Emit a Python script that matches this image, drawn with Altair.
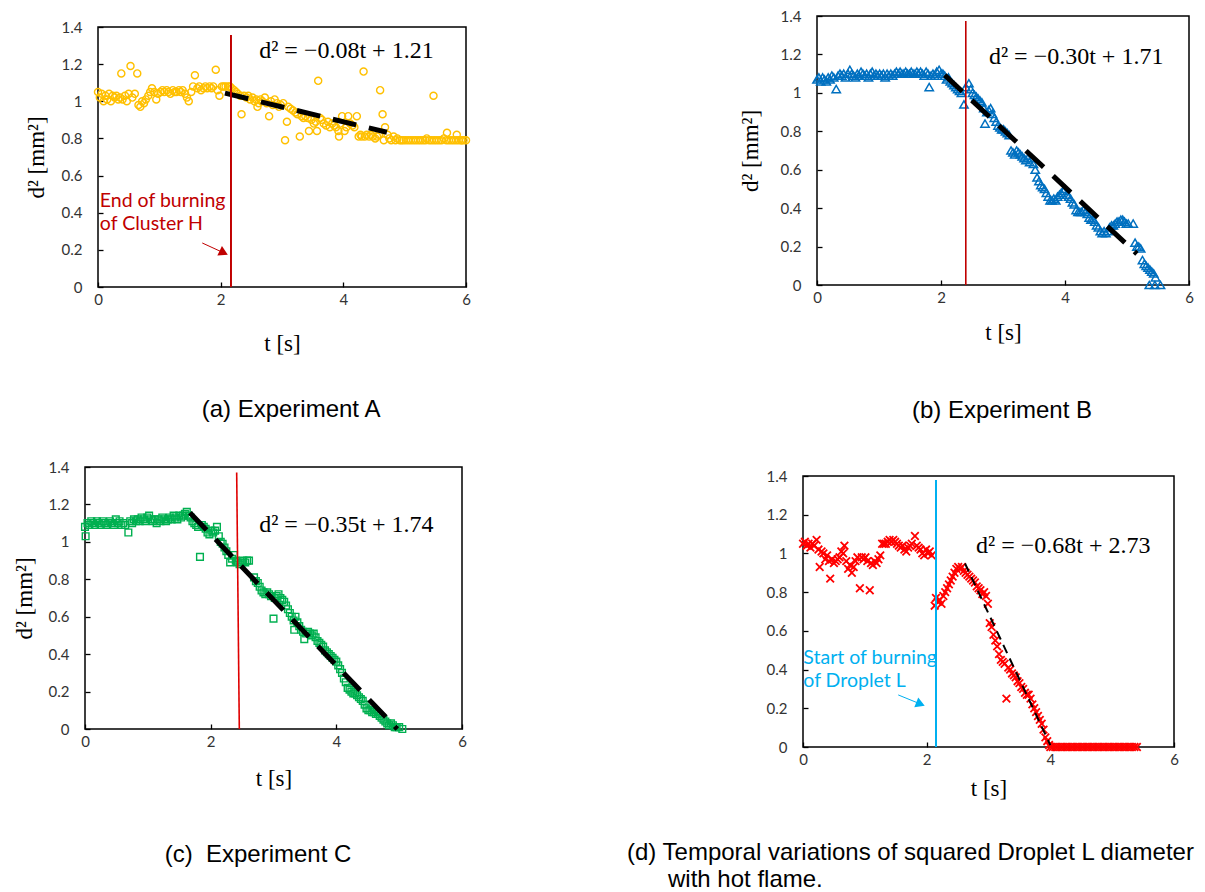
import altair as alt
import pandas as pd

# ---------------- data ----------------
X_TICKS = [0, 2, 4, 6]
Y_TICKS = [0, 0.2, 0.4, 0.6, 0.8, 1.0, 1.2, 1.4]

# (a) Experiment A  (t [s], d^2 [mm^2])
A_POINTS = [
    (0.00, 1.05), (0.03, 1.02), (0.06, 1.04), (0.09, 1.00), (0.12, 1.03), (0.15, 1.01),
    (0.18, 1.04), (0.21, 1.00), (0.24, 1.03), (0.27, 1.02), (0.30, 1.03), (0.33, 1.01),
    (0.36, 1.02), (0.38, 1.15), (0.40, 1.01), (0.44, 1.03), (0.47, 1.00), (0.50, 1.04),
    (0.53, 1.19), (0.56, 1.02), (0.60, 1.04), (0.64, 1.15), (0.66, 0.98), (0.69, 0.97),
    (0.72, 1.00), (0.75, 0.99), (0.78, 1.01), (0.82, 1.03), (0.85, 1.05), (0.88, 1.07),
    (0.92, 1.05), (0.95, 1.01), (0.98, 1.04), (1.02, 1.05), (1.05, 1.06), (1.08, 1.05),
    (1.12, 1.06), (1.15, 1.05), (1.18, 1.04), (1.22, 1.06), (1.25, 1.05), (1.28, 1.05),
    (1.32, 1.06), (1.35, 1.05), (1.38, 1.06), (1.42, 1.04), (1.45, 1.02), (1.48, 1.00),
    (1.52, 1.05), (1.55, 1.08), (1.58, 1.14), (1.62, 1.07), (1.65, 1.08), (1.68, 1.06),
    (1.72, 1.07), (1.75, 1.08), (1.78, 1.07), (1.82, 1.08), (1.85, 1.07), (1.88, 1.08),
    (1.92, 1.17), (1.95, 1.06), (1.98, 1.03), (2.02, 1.08), (2.05, 1.08), (2.08, 1.08),
    (2.12, 1.08), (2.15, 1.08), (2.18, 1.07), (2.22, 1.06), (2.25, 1.05), (2.28, 1.04),
    (2.32, 1.03), (2.34, 0.93), (2.38, 1.03), (2.42, 1.02), (2.45, 1.03), (2.48, 1.01),
    (2.52, 1.02), (2.55, 1.00), (2.58, 1.01), (2.60, 0.97), (2.62, 0.99), (2.65, 1.01),
    (2.68, 1.00), (2.72, 1.02), (2.75, 0.99), (2.79, 0.92), (2.82, 1.00), (2.85, 0.98),
    (2.88, 1.01), (2.92, 0.99), (2.95, 0.97), (2.98, 0.98), (3.02, 0.99), (3.05, 0.79),
    (3.08, 0.89), (3.10, 0.97), (3.14, 0.96), (3.18, 0.95), (3.22, 0.94), (3.25, 0.93),
    (3.29, 0.81), (3.32, 0.92), (3.35, 0.91), (3.38, 0.92), (3.42, 0.91), (3.44, 0.84),
    (3.48, 0.90), (3.52, 0.88), (3.55, 0.89), (3.57, 0.84), (3.59, 1.11), (3.62, 0.91),
    (3.65, 0.90), (3.68, 0.88), (3.72, 0.87), (3.75, 0.89), (3.78, 0.86), (3.82, 0.88),
    (3.85, 0.87), (3.88, 0.86), (3.92, 0.84), (3.93, 0.81), (3.95, 0.88), (3.98, 0.92),
    (4.02, 0.84), (4.05, 0.86), (4.08, 0.92), (4.11, 0.88), (4.15, 0.87), (4.18, 0.86),
    (4.22, 0.92), (4.25, 0.81), (4.28, 0.82), (4.30, 0.81), (4.33, 1.16), (4.35, 0.81),
    (4.38, 0.82), (4.42, 0.81), (4.45, 0.82), (4.48, 0.81), (4.52, 0.80), (4.55, 0.81),
    (4.58, 0.82), (4.60, 1.06), (4.64, 0.93), (4.66, 0.79), (4.68, 0.86), (4.72, 0.82),
    (4.75, 0.80), (4.78, 0.79), (4.82, 0.81), (4.85, 0.79), (4.88, 0.80), (4.92, 0.79),
    (4.95, 0.79), (4.98, 0.79), (5.02, 0.79), (5.06, 0.79), (5.10, 0.79), (5.14, 0.79),
    (5.18, 0.79), (5.22, 0.79), (5.26, 0.79), (5.30, 0.79), (5.34, 0.79), (5.36, 0.80),
    (5.40, 0.79), (5.44, 0.79), (5.47, 1.03), (5.48, 0.79), (5.52, 0.79), (5.56, 0.79),
    (5.60, 0.79), (5.64, 0.80), (5.68, 0.79), (5.69, 0.83), (5.72, 0.79), (5.76, 0.79),
    (5.80, 0.79), (5.84, 0.79), (5.85, 0.82), (5.88, 0.79), (5.92, 0.79), (5.93, 0.79),
    (5.96, 0.79), (6.00, 0.79),
]

# (b) Experiment B
B_POINTS = [
    (0.00, 1.07), (0.03, 1.08), (0.06, 1.06), (0.09, 1.08), (0.12, 1.07), (0.15, 1.06),
    (0.18, 1.08), (0.21, 1.07), (0.24, 1.09), (0.27, 1.08), (0.31, 1.02), (0.34, 1.09),
    (0.37, 1.10), (0.40, 1.09), (0.43, 1.10), (0.46, 1.08), (0.50, 1.10), (0.53, 1.12),
    (0.56, 1.10), (0.59, 1.09), (0.62, 1.08), (0.65, 1.10), (0.68, 1.09), (0.71, 1.11),
    (0.74, 1.10), (0.77, 1.09), (0.80, 1.10), (0.83, 1.08), (0.86, 1.10), (0.89, 1.11),
    (0.92, 1.09), (0.95, 1.10), (0.98, 1.09), (1.01, 1.10), (1.04, 1.09), (1.07, 1.10),
    (1.10, 1.08), (1.13, 1.10), (1.16, 1.09), (1.19, 1.10), (1.22, 1.09), (1.25, 1.10),
    (1.28, 1.11), (1.31, 1.10), (1.34, 1.11), (1.37, 1.10), (1.40, 1.10), (1.43, 1.11),
    (1.46, 1.10), (1.49, 1.10), (1.52, 1.11), (1.55, 1.10), (1.58, 1.10), (1.61, 1.11),
    (1.64, 1.10), (1.67, 1.11), (1.70, 1.10), (1.73, 1.09), (1.76, 1.11), (1.79, 1.10),
    (1.81, 1.03), (1.84, 1.09), (1.87, 1.10), (1.90, 1.09), (1.93, 1.11), (1.97, 1.12),
    (2.00, 1.10), (2.03, 1.10), (2.06, 1.09), (2.09, 1.07), (2.12, 1.08), (2.15, 1.06),
    (2.18, 1.05), (2.21, 1.04), (2.24, 1.03), (2.27, 1.02), (2.30, 1.01), (2.33, 1.00),
    (2.37, 0.94), (2.40, 1.03), (2.45, 1.05), (2.48, 1.02), (2.51, 1.00), (2.54, 0.99),
    (2.57, 0.98), (2.60, 0.97), (2.63, 0.96), (2.66, 0.95), (2.69, 0.92), (2.71, 0.84),
    (2.74, 0.90), (2.77, 0.91), (2.80, 0.92), (2.83, 0.89), (2.86, 0.87), (2.89, 0.85),
    (2.92, 0.83), (2.95, 0.82), (2.98, 0.81), (3.01, 0.81), (3.04, 0.80), (3.07, 0.79),
    (3.10, 0.78), (3.13, 0.70), (3.16, 0.69), (3.19, 0.68), (3.22, 0.70), (3.25, 0.69),
    (3.28, 0.68), (3.31, 0.67), (3.34, 0.66), (3.37, 0.65), (3.40, 0.66), (3.43, 0.64),
    (3.46, 0.66), (3.49, 0.63), (3.52, 0.60), (3.55, 0.56), (3.58, 0.54), (3.61, 0.52),
    (3.64, 0.51), (3.67, 0.50), (3.70, 0.48), (3.73, 0.46), (3.76, 0.44), (3.79, 0.44),
    (3.82, 0.45), (3.85, 0.44), (3.88, 0.46), (3.91, 0.47), (3.94, 0.48), (3.97, 0.49),
    (4.00, 0.50), (4.03, 0.47), (4.06, 0.46), (4.09, 0.45), (4.12, 0.43), (4.15, 0.42),
    (4.18, 0.39), (4.21, 0.38), (4.24, 0.38), (4.27, 0.38), (4.30, 0.39), (4.33, 0.38),
    (4.36, 0.37), (4.39, 0.35), (4.42, 0.34), (4.45, 0.34), (4.48, 0.33), (4.51, 0.31),
    (4.54, 0.30), (4.57, 0.28), (4.60, 0.27), (4.63, 0.28), (4.66, 0.27), (4.69, 0.28),
    (4.72, 0.30), (4.75, 0.31), (4.78, 0.31), (4.81, 0.32), (4.84, 0.33), (4.87, 0.33),
    (4.90, 0.34), (4.93, 0.34), (4.96, 0.33), (4.99, 0.32), (5.02, 0.32), (5.10, 0.32),
    (5.13, 0.22), (5.16, 0.20), (5.19, 0.20), (5.22, 0.19), (5.25, 0.13), (5.28, 0.11),
    (5.31, 0.10), (5.34, 0.09), (5.37, 0.08), (5.40, 0.07), (5.43, 0.06), (5.46, 0.04),
    (5.36, 0.00), (5.45, 0.00), (5.54, 0.00),
]

# (c) Experiment C
C_POINTS = [
    (0.00, 1.08), (0.01, 1.03), (0.04, 1.10), (0.07, 1.09), (0.10, 1.11), (0.13, 1.10),
    (0.16, 1.09), (0.19, 1.11), (0.22, 1.10), (0.25, 1.09), (0.28, 1.11), (0.31, 1.10),
    (0.34, 1.09), (0.37, 1.10), (0.40, 1.11), (0.43, 1.10), (0.46, 1.09), (0.49, 1.12),
    (0.52, 1.10), (0.55, 1.11), (0.58, 1.09), (0.61, 1.10), (0.64, 1.09), (0.69, 1.05),
    (0.72, 1.11), (0.75, 1.10), (0.78, 1.12), (0.81, 1.11), (0.84, 1.12), (0.87, 1.11),
    (0.90, 1.13), (0.93, 1.12), (0.96, 1.11), (0.99, 1.13), (1.02, 1.14), (1.05, 1.12),
    (1.08, 1.11), (1.11, 1.12), (1.14, 1.10), (1.17, 1.12), (1.20, 1.11), (1.23, 1.13),
    (1.26, 1.12), (1.29, 1.11), (1.32, 1.12), (1.35, 1.13), (1.38, 1.12), (1.41, 1.14),
    (1.44, 1.13), (1.47, 1.12), (1.50, 1.14), (1.53, 1.13), (1.56, 1.14), (1.59, 1.15),
    (1.62, 1.16), (1.65, 1.14), (1.68, 1.13), (1.71, 1.11), (1.74, 1.10), (1.77, 1.09),
    (1.80, 1.08), (1.83, 0.92), (1.86, 1.09), (1.89, 1.08), (1.92, 1.07), (1.95, 1.05),
    (1.98, 1.04), (2.01, 1.06), (2.04, 1.05), (2.07, 1.06), (2.10, 1.08), (2.13, 1.03),
    (2.16, 1.00), (2.19, 0.99), (2.22, 0.97), (2.25, 0.95), (2.28, 0.93), (2.31, 0.89),
    (2.34, 0.91), (2.37, 0.93), (2.40, 0.90), (2.43, 0.89), (2.46, 0.88), (2.49, 0.89),
    (2.52, 0.90), (2.55, 0.89), (2.58, 0.90), (2.61, 0.90), (2.69, 0.81), (2.72, 0.79),
    (2.75, 0.78), (2.78, 0.76), (2.81, 0.74), (2.84, 0.73), (2.87, 0.72), (2.90, 0.73),
    (2.93, 0.72), (2.96, 0.71), (3.00, 0.59), (3.02, 0.70), (3.05, 0.71), (3.08, 0.72),
    (3.11, 0.70), (3.14, 0.69), (3.17, 0.68), (3.20, 0.66), (3.23, 0.64), (3.26, 0.62),
    (3.29, 0.60), (3.32, 0.58), (3.33, 0.53), (3.35, 0.60), (3.38, 0.57), (3.41, 0.55),
    (3.44, 0.53), (3.47, 0.52), (3.49, 0.48), (3.52, 0.51), (3.55, 0.52), (3.58, 0.51),
    (3.61, 0.50), (3.64, 0.51), (3.67, 0.49), (3.70, 0.47), (3.73, 0.46), (3.76, 0.45),
    (3.79, 0.44), (3.82, 0.42), (3.85, 0.41), (3.88, 0.40), (3.91, 0.39), (3.94, 0.38),
    (3.97, 0.37), (4.00, 0.36), (4.03, 0.34), (4.06, 0.32), (4.09, 0.30), (4.12, 0.27),
    (4.15, 0.25), (4.18, 0.22), (4.21, 0.21), (4.24, 0.20), (4.27, 0.19), (4.30, 0.19),
    (4.33, 0.18), (4.36, 0.17), (4.39, 0.16), (4.42, 0.15), (4.45, 0.13), (4.48, 0.11),
    (4.51, 0.10), (4.54, 0.10), (4.57, 0.09), (4.60, 0.09), (4.63, 0.08), (4.66, 0.08),
    (4.69, 0.07), (4.72, 0.06), (4.75, 0.05), (4.78, 0.04), (4.81, 0.03), (4.84, 0.02),
    (4.87, 0.03), (4.90, 0.02), (4.93, 0.01), (4.96, 0.01), (5.00, 0.01), (5.05, 0.00),
]

# (d) Droplet L with hot flame
D_POINTS = [
    (0.00, 1.05), (0.03, 1.06), (0.06, 1.04), (0.09, 1.05), (0.12, 1.03), (0.15, 1.05),
    (0.18, 1.04), (0.22, 1.07), (0.25, 1.02), (0.27, 0.93), (0.30, 1.01), (0.33, 1.00),
    (0.36, 0.97), (0.39, 0.99), (0.42, 0.96), (0.44, 0.87), (0.47, 0.97), (0.50, 0.95),
    (0.53, 0.96), (0.56, 0.97), (0.59, 0.98), (0.62, 1.01), (0.65, 1.00), (0.67, 1.04),
    (0.70, 0.96), (0.73, 0.92), (0.76, 0.94), (0.79, 0.90), (0.82, 0.93), (0.85, 0.96),
    (0.88, 0.98), (0.92, 0.82), (0.95, 0.98), (0.98, 0.97), (1.01, 0.98), (1.04, 0.96),
    (1.08, 0.81), (1.10, 0.95), (1.13, 0.94), (1.16, 0.96), (1.19, 0.95), (1.22, 0.97),
    (1.25, 0.99), (1.28, 1.05), (1.31, 1.05), (1.34, 1.05), (1.37, 1.06), (1.40, 1.07),
    (1.43, 1.06), (1.46, 1.07), (1.49, 1.06), (1.52, 1.05), (1.55, 1.04), (1.58, 1.03),
    (1.61, 1.04), (1.64, 1.02), (1.67, 1.01), (1.70, 1.03), (1.73, 1.04), (1.76, 1.05),
    (1.81, 1.09), (1.84, 1.04), (1.87, 1.03), (1.90, 1.02), (1.93, 1.00), (1.96, 0.99),
    (1.99, 1.02), (2.02, 1.00), (2.05, 1.01), (2.08, 0.99), (2.13, 0.73), (2.15, 0.77),
    (2.18, 0.75), (2.21, 0.76), (2.24, 0.74), (2.27, 0.78), (2.30, 0.80), (2.33, 0.82),
    (2.36, 0.84), (2.39, 0.86), (2.42, 0.88), (2.45, 0.90), (2.48, 0.92), (2.51, 0.93),
    (2.54, 0.92), (2.57, 0.93), (2.60, 0.91), (2.63, 0.90), (2.66, 0.89), (2.69, 0.88),
    (2.72, 0.87), (2.75, 0.86), (2.78, 0.85), (2.81, 0.83), (2.84, 0.82), (2.87, 0.81),
    (2.90, 0.79), (2.93, 0.80), (2.96, 0.78), (2.99, 0.74), (3.02, 0.64), (3.05, 0.62),
    (3.08, 0.58), (3.11, 0.55), (3.14, 0.52), (3.17, 0.48), (3.20, 0.45), (3.23, 0.44),
    (3.26, 0.43), (3.29, 0.25), (3.32, 0.41), (3.35, 0.40), (3.38, 0.38), (3.41, 0.37),
    (3.44, 0.36), (3.47, 0.34), (3.50, 0.33), (3.53, 0.31), (3.56, 0.30), (3.59, 0.28),
    (3.62, 0.27), (3.65, 0.27), (3.68, 0.25), (3.71, 0.22), (3.74, 0.20), (3.77, 0.18),
    (3.80, 0.16), (3.83, 0.14), (3.86, 0.12), (3.89, 0.09), (3.92, 0.05), (3.95, 0.03),
    (3.98, 0.01), (4.00, 0.00), (4.04, 0.00), (4.08, 0.00), (4.12, 0.00), (4.16, 0.00),
    (4.20, 0.00), (4.24, 0.00), (4.28, 0.00), (4.32, 0.00), (4.36, 0.00), (4.40, 0.00),
    (4.44, 0.00), (4.48, 0.00), (4.52, 0.00), (4.56, 0.00), (4.60, 0.00), (4.64, 0.00),
    (4.68, 0.00), (4.72, 0.00), (4.76, 0.00), (4.80, 0.00), (4.84, 0.00), (4.88, 0.00),
    (4.92, 0.00), (4.96, 0.00), (5.00, 0.00), (5.04, 0.00), (5.08, 0.00), (5.12, 0.00),
    (5.16, 0.00), (5.20, 0.00), (5.24, 0.00), (5.28, 0.00), (5.32, 0.00), (5.36, 0.00),
    (5.40, 0.00),
]

# fitted lines (end points on the regression lines)
FIT_A = [(2.07, 1.044), (4.71, 0.833)]
FIT_B = [(2.06, 1.092), (5.16, 0.162)]
FIT_C = [(1.67, 1.156), (4.97, 0.000)]
FIT_D = [(2.62, 0.948), (4.00, 0.010)]

EQUATIONS = {"A": "d² = −0.08t + 1.21", "B": "d² = −0.30t + 1.71",
             "C": "d² = −0.35t + 1.74", "D": "d² = −0.68t + 2.73"}
EQ_POS = {"A": (4.05, 1.27), "B": (4.18, 1.187), "C": (4.16, 1.09), "D": (4.21, 1.038)}

# marker lines: (t at top, top value, t at bottom)
RULE_A = (2.168, 1.357, 2.168)
RULE_B = (2.40, 1.374, 2.40)
RULE_C = (2.414, 1.37, 2.456)
RULE_D = (2.151, 1.379, 2.151)

NOTE_A = ["End of burning", "of Cluster H"]
NOTE_A_POS = (0.03, [0.431, 0.307])
ARROW_A = [(1.70, 0.237), (2.05, 0.184)]
NOTE_D = ["Start of burning", "of Droplet L"]
NOTE_D_POS = (0.005, [0.429, 0.310])
ARROW_D = [(1.54, 0.269), (1.90, 0.222)]

# captions below each panel, placed in that panel's own data units
CAPTIONS = {
    "A": [("(a) Experiment A", 3.147, -0.700, "center")],
    "B": [("(b) Experiment B", 2.984, -0.692, "center")],
    "C": [("(c)\u00a0 Experiment C", 2.753, -0.711, "center")],
    "D": [("(d) Temporal variations of squared Droplet L diameter", -2.846, -0.584, "left"),
          ("with hot flame.", -2.183, -0.722, "left")],
}

COLORS = {"A": "#FFC000", "B": "#0070C0", "C": "#00B050", "D": "#FF0000"}

Y_TITLE = "d² [mm²]"
X_TITLE = "t [s]"

# ---------------- layout (pixels inside the drawing) ----------------
W, H = 1189, 884
LAYOUT = {
    #      x range      y range (bottom, top)
    "A": dict(xr=[90, 458], yr=[279, 19], ypad=13, xpad=25, ytitle=True),
    "B": dict(xr=[809, 1181], yr=[277, 8], ypad=17.5, xpad=16, ytitle=True),
    "C": dict(xr=[77, 454], yr=[721, 459], ypad=11.5, xpad=18.5, ytitle=True),
    "D": dict(xr=[795, 1166], yr=[739, 468], ypad=0, xpad=10, ytitle=False),
}
TICK = 5

COMMON_AXIS = dict(grid=False, domain=False, ticks=True, tickSize=TICK,
                   tickColor="black", tickWidth=1.3, labelFont="Lato",
                   labelFontSize=15, labelColor="#333333", labelFlush=False,
                   labelOverlap=False, format="~g")


def panel(key, points, marker, fit, fit_style, rule, rule_color, rule_w,
          note=None, note_pos=None, arrow=None, arrow_angle=0, note_color=None):
    L = LAYOUT[key]
    xsc = alt.Scale(domain=[0, 6], range=L["xr"], nice=False, zero=False)
    ysc = alt.Scale(domain=[0, 1.4], range=L["yr"], nice=False, zero=False)
    XA = alt.Axis(orient="bottom", values=X_TICKS, labelPadding=5,
                  offset=L["yr"][0] - TICK - H,
                  title=X_TITLE, titleFont="Liberation Serif", titleFontSize=23,
                  titleFontWeight="normal", titleColor="black", titlePadding=L["xpad"],
                  **COMMON_AXIS)
    ykw = dict(orient="left", values=Y_TICKS, labelPadding=16,
               offset=-(L["xr"][0] + TICK), **COMMON_AXIS)
    if L["ytitle"]:
        ykw.update(title=Y_TITLE, titleFont="Liberation Serif", titleFontSize=23,
                   titleFontWeight="normal", titleColor="black", titlePadding=L["ypad"])
    else:
        ykw.update(title=None)
    YA = alt.Axis(**ykw)

    def X(f):
        return alt.X(f, scale=xsc, axis=XA)

    def Y(f):
        return alt.Y(f, scale=ysc, axis=YA)

    frame = alt.Chart(pd.DataFrame([{"t": 0, "t_end": 6, "d2": 0, "d2_end": 1.4}])).mark_rect(
        fillOpacity=0, stroke="black", strokeWidth=1.5).encode(
        x=X("t:Q"), x2="t_end:Q", y=Y("d2:Q"), y2="d2_end:Q")
    df = pd.DataFrame(points, columns=["t", "d2"])
    pts = alt.Chart(df).mark_point(opacity=1, color=COLORS[key], **marker).encode(
        x=X("t:Q"), y=Y("d2:Q"))
    fdf = pd.DataFrame(fit, columns=["t", "d2"])
    fitl = alt.Chart(fdf).mark_line(color="black", **fit_style).encode(
        x=X("t:Q"), y=Y("d2:Q"))
    rdf = pd.DataFrame([{"t": rule[0], "d2": rule[1], "t_end": rule[2], "d2_end": 0.0}])
    rl = alt.Chart(rdf).mark_rule(color=rule_color, strokeWidth=rule_w).encode(
        x=X("t:Q"), x2="t_end:Q", y=Y("d2:Q"), y2="d2_end:Q")
    ex, ey = EQ_POS[key]
    edf = pd.DataFrame([{"t": ex, "d2": ey, "label": EQUATIONS[key]}])
    eq = alt.Chart(edf).mark_text(font="Liberation Serif", fontSize=24, color="black",
                                  align="center", baseline="middle").encode(
        x=X("t:Q"), y=Y("d2:Q"), text="label:N")
    layers = [frame, pts, fitl, rl, eq]
    for text, ct, cy, al in CAPTIONS[key]:
        cdf = pd.DataFrame([{"t": ct, "d2": cy, "label": text}])
        layers.append(alt.Chart(cdf).mark_text(font="Liberation Sans", fontSize=24,
                                               color="black", align=al,
                                               baseline="alphabetic").encode(
            x=X("t:Q"), y=Y("d2:Q"), text="label:N"))
    if note is not None:
        ndf = pd.DataFrame({"t": [note_pos[0]] * len(note), "d2": note_pos[1],
                            "label": note})
        layers.append(alt.Chart(ndf).mark_text(font="Lato", fontSize=19.5,
                                               color=note_color, align="left",
                                               baseline="alphabetic").encode(
            x=X("t:Q"), y=Y("d2:Q"), text="label:N"))
        adf = pd.DataFrame(arrow, columns=["t", "d2"])
        layers.append(alt.Chart(adf).mark_line(color=note_color, strokeWidth=1).encode(
            x=X("t:Q"), y=Y("d2:Q")))
        hdf = adf.tail(1)
        layers.append(alt.Chart(hdf).mark_point(shape="triangle-right", filled=True,
                                                size=110, angle=arrow_angle,
                                                color=note_color, opacity=1).encode(
            x=X("t:Q"), y=Y("d2:Q")))
    return alt.layer(*layers)


A = panel("A", A_POINTS, dict(shape="circle", filled=False, size=50, strokeWidth=1.4),
          FIT_A, dict(strokeWidth=5, strokeDash=[24, 13]), RULE_A, "#C00000", 2,
          note=NOTE_A, note_pos=NOTE_A_POS, arrow=ARROW_A, arrow_angle=26,
          note_color="#C00000")
B = panel("B", B_POINTS, dict(shape="triangle-up", filled=False, size=70, strokeWidth=1.5),
          FIT_B, dict(strokeWidth=5, strokeDash=[24, 13]), RULE_B, "#C00000", 1.6)
C = panel("C", C_POINTS, dict(shape="square", filled=False, size=45, strokeWidth=1.4),
          FIT_C, dict(strokeWidth=5, strokeDash=[24, 13]), RULE_C, "#E00000", 1.6)
D = panel("D", D_POINTS, dict(shape="M-1,-1L1,1M-1,1L1,-1", filled=False, size=58,
                              strokeWidth=1.8),
          FIT_D, dict(strokeWidth=2, strokeDash=[9, 6]), RULE_D, "#00B0F0", 2,
          note=NOTE_D, note_pos=NOTE_D_POS, arrow=ARROW_D, arrow_angle=22,
          note_color="#00B0F0")

chart = alt.layer(A, B, C, D).resolve_scale(
    x="independent", y="independent"
).resolve_axis(
    x="independent", y="independent"
).properties(
    width=W, height=H,
    autosize=alt.AutoSizeParams(type="none"),
    padding=0,
    background="white",
).configure_view(strokeOpacity=0)

chart.save("out.html", embed_options={"renderer": "svg", "actions": False})
